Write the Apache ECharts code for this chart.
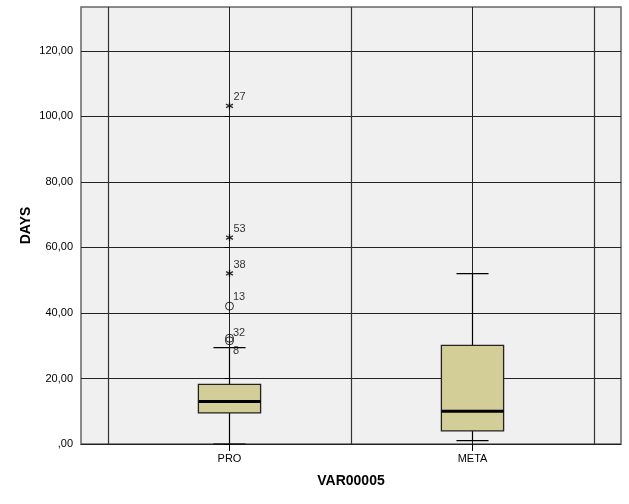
<!DOCTYPE html>
<html>
<head>
<meta charset="utf-8">
<script src="https://cdn.jsdelivr.net/npm/echarts@6/dist/echarts.min.js"></script>
<style>html,body{margin:0;padding:0;background:#fff}#c{width:629px;height:504px}</style>
</head>
<body>
<div id="c"></div>
<script>
// ---- data ----
var categories = ['PRO', 'META'];
// [min, Q1, median, Q3, max] of whiskers/box
var boxMin    = [0, 1];
var boxQ1     = [9.5, 4];
var boxMedian = [13, 10];
var boxQ3     = [18.2, 30.1];
var boxMax    = [29.4, 52];
// outliers (PRO)
var outlierCase  = ['27', '53', '38', '13', '32', '8'];
var outlierValue = [103.2, 63, 52.1, 42.1, 32.3, 31.5];
var outlierGroup = [0, 0, 0, 0, 0, 0];
var outlierExtreme = [true, true, true, false, false, false];
var yTicks = [0, 20, 40, 60, 80, 100, 120];
var yMax = 133.4;

// ---- styling ----
var labelOffsetY = { '27': -8, '53': -8, '38': -8, '13': -8, '32': -4, '8': 11 };
var FONT = 'Liberation Sans, Arial, sans-serif';
var halfBox = 0.128, halfCap = 0.066;
var xPad = 0.6111;

var boxData = categories.map(function (c, i) {
  return [i, boxMin[i], boxQ1[i], boxMedian[i], boxQ3[i], boxMax[i]];
});
var starPath = 'path://M0,-5L0,5M-4.33,-2.5L4.33,2.5M-4.33,2.5L4.33,-2.5';
var outData = outlierValue.map(function (v, i) {
  return {
    value: [outlierGroup[i], v],
    name: outlierCase[i],
    symbol: outlierExtreme[i] ? starPath : 'circle',
    symbolSize: outlierExtreme[i] ? 7 : 8,
    itemStyle: outlierExtreme[i]
      ? { color: 'none', borderColor: '#000', borderWidth: 1.3 }
      : { color: 'none', borderColor: '#000', borderWidth: 1 },
    label: { position: [10, labelOffsetY[outlierCase[i]]] }
  };
});

var chart = echarts.init(document.getElementById('c'), null, { renderer: 'canvas' });
chart.setOption({
  animation: false,
  backgroundColor: '#fff',
  grid: {
    left: 81, right: 8, top: 7, bottom: 60,
    show: true, backgroundColor: '#F0F0F0', borderColor: '#666', borderWidth: 1.5
  },
  xAxis: {
    type: 'value', min: -xPad, max: (categories.length - 1) + xPad,
    name: 'VAR00005', nameLocation: 'middle', nameGap: 30,
    nameTextStyle: { fontFamily: FONT, fontSize: 14, fontWeight: 'bold', color: '#000' },
    axisLine: { show: true, lineStyle: { color: '#222', width: 1 } },
    axisTick: { show: true, length: 7, lineStyle: { color: '#000' }, customValues: categories.map(function (c, i) { return i; }) },
    axisLabel: {
      customValues: categories.map(function (c, i) { return i; }),
      margin: 9, fontFamily: FONT, fontSize: 11, color: '#000',
      formatter: function (v) { var k = Math.round(v); return Math.abs(v - k) < 1e-6 && categories[k] ? categories[k] : ''; }
    },
    splitLine: { show: true, lineStyle: { color: '#222', width: 1 } }
  },
  yAxis: {
    type: 'value', min: 0, max: yMax,
    name: 'DAYS', nameLocation: 'middle', nameGap: 48, nameMoveOverlap: false,
    nameTextStyle: { fontFamily: FONT, fontSize: 14, fontWeight: 'bold', color: '#000' },
    axisLine: { show: false },
    axisTick: { show: true, length: 5, lineStyle: { color: '#000' }, customValues: yTicks },
    axisLabel: {
      customValues: yTicks, margin: 8, fontFamily: FONT, fontSize: 11, color: '#000',
      formatter: function (v) { return v === 0 ? ',00' : v.toFixed(2).replace('.', ','); }
    },
    splitLine: { show: true, lineStyle: { color: '#222', width: 1 } }
  },
  series: [
    {
      type: 'custom',
      data: boxData,
      markLine: {
        silent: true, symbol: 'none', label: { show: false },
        lineStyle: { color: '#333', width: 1.2, type: 'solid' },
        data: [-0.5, 0.5, 1.5].map(function (x) { return { xAxis: x }; })
      },
      renderItem: function (params, api) {
        var x = api.value(0);
        var pMin = api.coord([x, api.value(1)]);
        var pQ1 = api.coord([x, api.value(2)]);
        var pMed = api.coord([x, api.value(3)]);
        var pQ3 = api.coord([x, api.value(4)]);
        var pMax = api.coord([x, api.value(5)]);
        var bl = api.coord([x - halfBox, 0])[0], br = api.coord([x + halfBox, 0])[0];
        var cl = api.coord([x - halfCap, 0])[0], cr = api.coord([x + halfCap, 0])[0];
        var ls = { stroke: '#000', lineWidth: 1.2 };
        return {
          type: 'group',
          children: [
            { type: 'line', shape: { x1: pMin[0], y1: pMin[1], x2: pQ1[0], y2: pQ1[1] }, style: ls },
            { type: 'line', shape: { x1: pQ3[0], y1: pQ3[1], x2: pMax[0], y2: pMax[1] }, style: ls },
            { type: 'line', shape: { x1: cl, y1: pMin[1], x2: cr, y2: pMin[1] }, style: ls },
            { type: 'line', shape: { x1: cl, y1: pMax[1], x2: cr, y2: pMax[1] }, style: ls },
            { type: 'rect', shape: { x: bl, y: pQ3[1], width: br - bl, height: pQ1[1] - pQ3[1] },
              style: { fill: '#D3CE97', stroke: '#222', lineWidth: 1.3 } },
            { type: 'line', shape: { x1: bl, y1: pMed[1], x2: br, y2: pMed[1] }, style: { stroke: '#000', lineWidth: 3 } }
          ]
        };
      }
    },
    {
      type: 'scatter',
      data: outData,
      label: {
        show: true, fontFamily: FONT, fontSize: 11, color: '#000',
        formatter: function (p) { return p.name; }
      }
    }
  ]
});
</script>
</body>
</html>
